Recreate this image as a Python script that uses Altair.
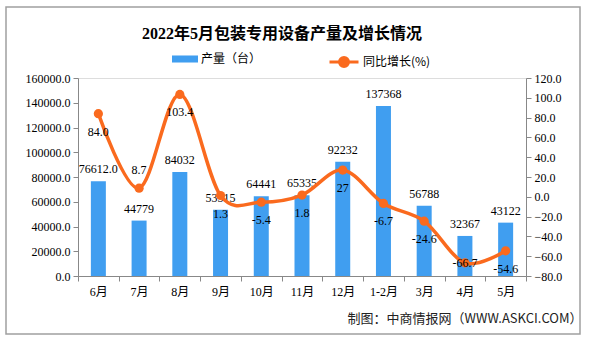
import json
import altair as alt
import pandas as pd

# ---- data ----
months = ["6月", "7月", "8月", "9月", "10月", "11月", "12月", "1-2月", "3月", "4月", "5月"]
output = [76612, 44779, 84032, 53515, 64441, 65335, 92232, 137368, 56788, 32367, 43122]
output_labels = ["76612.0", "44779", "84032", "53515", "64441", "65335", "92232", "137368", "56788", "32367", "43122"]
growth = [84.0, 8.7, 103.4, 1.3, -5.4, 1.8, 27.0, -6.7, -24.6, -66.7, -54.6]
growth_labels = ["84.0", "8.7", "103.4", "1.3", "-5.4", "1.8", "27", "-6.7", "-24.6", "-66.7", "-54.6"]
left_ticks = [0, 20000, 40000, 60000, 80000, 100000, 120000, 140000, 160000]
right_ticks = [-80, -60, -40, -20, 0, 20, 40, 60, 80, 100, 120]
series_names = ["产量（台）", "同比增长(%)"]
labels_above = ["7月"]
labels_center = ["4月"]

BLUE = "#409EF0"
ORANGE = "#FA6A1E"
NUM_FONT = "Liberation Serif, Noto Sans CJK SC"
CJK_FONT = "Noto Sans CJK SC"

df = pd.DataFrame({
    "month": months,
    "output": output,
    "output_label": output_labels,
    "growth": growth,
    "growth_label": growth_labels,
    "s_bar": [series_names[0]] * len(months),
    "s_line": [series_names[1]] * len(months),
})

x = alt.X(
    "month:N", sort=months, title="制图：中商情报网（WWW.ASKCI.COM）",
    scale=alt.Scale(paddingInner=0, paddingOuter=0),
    axis=alt.Axis(labelAngle=0, tickBand="extent", domainColor="#888888", tickColor="#888888",
                  tickSize=5, labelPadding=5, labelFont=NUM_FONT, labelFontSize=12, labelColor="#000000",
                  titleX=504, titleY=42, titleAlign="right", titleBaseline="middle",
                  titleFont=CJK_FONT, titleFontSize=13, titleFontWeight="normal", titleColor="#222222"),
)

axis_common = dict(title=None, format=".1f", domainColor="#888888", tickColor="#888888", tickSize=5,
                   labelFont=NUM_FONT, labelFontSize=12, labelColor="#000000", labelPadding=3, grid=False)


def y_left(axis=None):
    return alt.Y("output:Q", scale=alt.Scale(domain=[0, 160000], nice=False), axis=axis)


def y_right(axis=None):
    return alt.Y("growth:Q", scale=alt.Scale(domain=[-80, 120], nice=False), axis=axis)


bars = alt.Chart(df).mark_bar(width=15).encode(
    x=x,
    y=y_left(alt.Axis(orient="left", values=left_ticks, **axis_common)),
    color=alt.Color("s_bar:N",
                    scale=alt.Scale(domain=[series_names[0]], range=[BLUE]),
                    legend=alt.Legend(title=None, orient="none", legendX=94, legendY=-32,
                                      symbolType="M-1,-0.27H1V0.27H-1Z", symbolSize=676,
                                      symbolStrokeWidth=0, labelFont=CJK_FONT, labelFontSize=12,
                                      labelColor="#000000", labelOffset=3, padding=0)),
)

bar_text = alt.Chart(df).mark_text(dy=-12, font=NUM_FONT, fontSize=12, color="#000000").encode(
    x=x, y=y_left(), text="output_label:N",
)

line = alt.Chart(df).mark_line(interpolate="cardinal", strokeWidth=3.5).encode(
    x=x,
    y=y_right(alt.Axis(orient="right", values=right_ticks, **axis_common)),
    stroke=alt.Stroke("s_line:N",
                      scale=alt.Scale(domain=[series_names[1]], range=[ORANGE]),
                      legend=alt.Legend(title=None, orient="none", legendX=250, legendY=-32,
                                        symbolType="M-1,0H1M0.31,0A0.31,0.31,0,1,1,-0.31,0A0.31,0.31,0,1,1,0.31,0",
                                        symbolSize=841, symbolStrokeWidth=3, symbolFillColor=ORANGE,
                                        labelFont=CJK_FONT, labelFontSize=12, labelColor="#000000",
                                        labelOffset=3, padding=0)),
)

points = alt.Chart(df).mark_circle(size=85, color=ORANGE, opacity=1).encode(x=x, y=y_right())

special = json.dumps(labels_above + labels_center, ensure_ascii=False)


def growth_text(dy, expr):
    return alt.Chart(df).mark_text(dy=dy, font=NUM_FONT, fontSize=12, color="#000000").encode(
        x=x, y=y_right(), text="growth_label:N",
    ).transform_filter(expr)


text_below = growth_text(18, f"indexof({special}, datum.month) < 0")
text_above = growth_text(-18, f"indexof({json.dumps(labels_above, ensure_ascii=False)}, datum.month) >= 0")
text_center = growth_text(0, f"indexof({json.dumps(labels_center, ensure_ascii=False)}, datum.month) >= 0")

border = alt.Chart(pd.DataFrame({"a": [0]})).mark_rect(fill="transparent", stroke="#A0A0A0", strokeWidth=1.5).encode(
    x=alt.value(-72), x2=alt.value(502), y=alt.value(-71), y2=alt.value(256),
)

chart = alt.layer(
    bars, bar_text, line, points, text_below, text_above, text_center, border
).resolve_scale(y="independent").properties(
    width=448, height=198,
    autosize=alt.AutoSizeParams(type="none"),
    padding={"left": 78, "top": 78, "right": 63, "bottom": 62},
    title=alt.TitleParams("2022年5月包装专用设备产量及增长情况", font="Liberation Serif, Noto Sans CJK SC",
                          fontSize=16, fontWeight="bold", color="#000000", anchor="middle",
                          dx=-20, dy=36, offset=0),
).configure_view(stroke=None).configure(background="white")

chart.save("out.html", embed_options={"renderer": "svg", "actions": False})
